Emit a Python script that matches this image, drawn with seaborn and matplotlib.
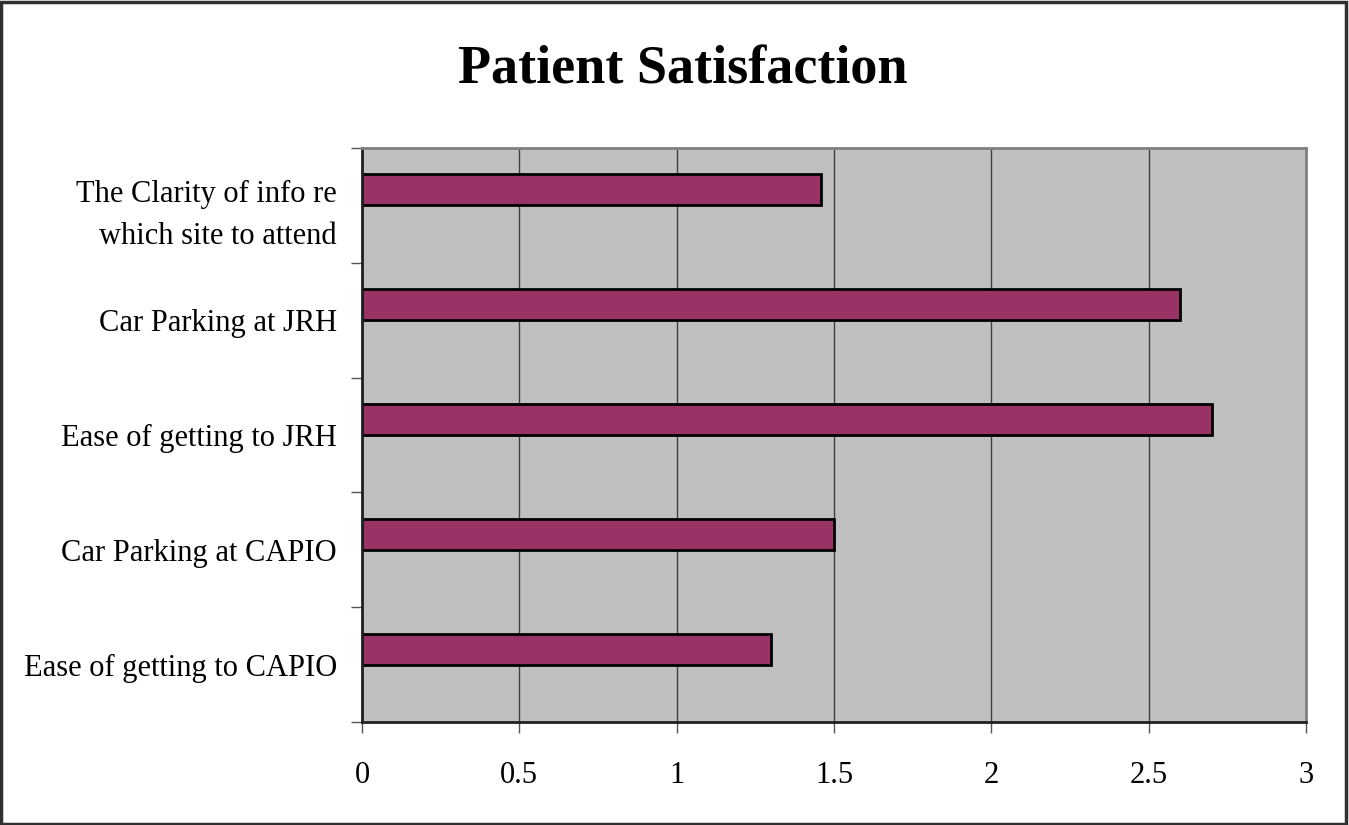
import matplotlib
matplotlib.use("Agg")
import matplotlib.pyplot as plt
import matplotlib.patches as mpatches
import seaborn as sns
import pandas as pd
import numpy as np

categories = [
    "The Clarity of info re\nwhich site to attend",
    "Car Parking at JRH",
    "Ease of getting to JRH",
    "Car Parking at CAPIO",
    "Ease of getting to CAPIO",
]
scores = [1.46, 2.60, 2.70, 1.50, 1.30]
# the original sheet has a second, empty series that pushes the bars up
blank = [np.nan] * len(categories)
xticks = [0, 0.5, 1, 1.5, 2, 2.5, 3]
xtick_labels = ["0", "0.5", "1", "1.5", "2", "2.5", "3"]

df = pd.concat([
    pd.DataFrame({"item": categories, "score": scores, "series": "Score"}),
    pd.DataFrame({"item": categories, "score": blank, "series": "Blank"}),
], ignore_index=True)

sns.set_style("white")
plt.rcParams["font.family"] = ["Liberation Serif", "DejaVu Serif"]
plt.rcParams["text.color"] = "black"
plt.rcParams["xtick.color"] = "black"
plt.rcParams["ytick.color"] = "black"

fig = plt.figure(figsize=(13.49, 8.25), dpi=100)
ax = fig.add_axes([362 / 1349, 1 - 722 / 825, (1306 - 362) / 1349, (722 - 148) / 825])

sns.barplot(data=df, x="score", y="item", hue="series", hue_order=["Score", "Blank"],
            order=categories, orient="h", palette=["#993366", "#993366"],
            edgecolor="black", linewidth=2, width=0.54, saturation=1,
            legend=False, ax=ax)

ax.set_facecolor("#c0c0c0")
ax.set_xlim(0, 3)
ax.set_ylim(len(categories) - 0.5, -0.5)
ax.set_xticks(xticks)
ax.set_xticklabels(xtick_labels, fontsize=22)
ax.tick_params(axis="x", bottom=True, direction="out", length=8, width=1, color="#555555",
               labelcolor="black", pad=20)
ax.tick_params(axis="y", which="major", left=True, length=0, labelsize=22,
               labelcolor="black", pad=18)
ax.set_yticks(np.arange(-0.5, len(categories), 1), minor=True)
ax.tick_params(axis="y", which="minor", left=True, direction="out", length=8, width=1,
               color="#555555")
for lbl in ax.get_yticklabels():
    lbl.set_linespacing(1.6)
ax.xaxis.grid(True, color="#404040", linewidth=1)
ax.set_axisbelow(True)
ax.set_xlabel("")
ax.set_ylabel("")

for side in ["top", "right"]:
    ax.spines[side].set_color("#808080")
    ax.spines[side].set_linewidth(2)
for side in ["left", "bottom"]:
    ax.spines[side].set_color("#202020")
    ax.spines[side].set_linewidth(2)

fig.text(0.506, 1 - 84 / 825, "Patient Satisfaction", ha="center", va="baseline",
         fontsize=39, fontweight="bold", color="black")

fig.patches.append(mpatches.Rectangle((0.001, 0.001), 0.997, 0.997, transform=fig.transFigure,
                                      fill=False, edgecolor="#303030", linewidth=2.5))

fig.savefig("out.png", dpi=100)
